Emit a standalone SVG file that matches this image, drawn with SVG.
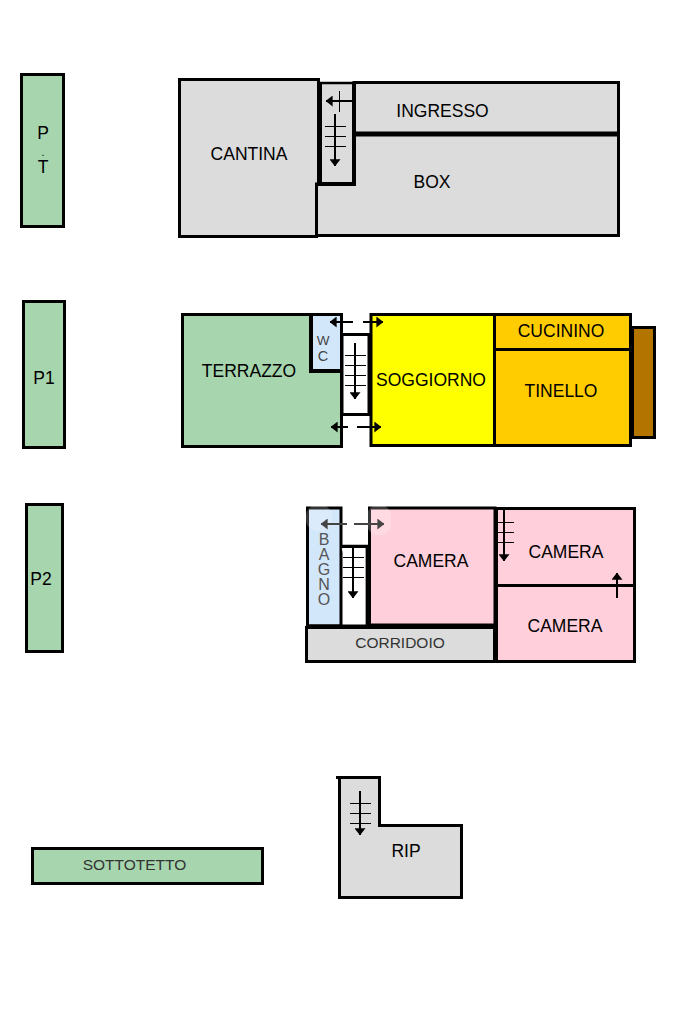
<svg xmlns="http://www.w3.org/2000/svg" width="682" height="1024" viewBox="0 0 682 1024">
<defs>
<marker id="ah" viewBox="0 0 10 10" refX="9.500" refY="5" markerWidth="7" markerHeight="11" markerUnits="userSpaceOnUse" orient="auto" preserveAspectRatio="none"><path d="M0 0L10 5L0 10z" fill="#000"/></marker>
<marker id="ahg" viewBox="0 0 10 10" refX="9.500" refY="5" markerWidth="7" markerHeight="11" markerUnits="userSpaceOnUse" orient="auto" preserveAspectRatio="none"><path d="M0 0L10 5L0 10z" fill="#444"/></marker>
</defs>
<style>
.r{stroke:#000;stroke-width:3;stroke-linejoin:miter}
.g{fill:#dcdcdc}.v{fill:#a6d5ae}.p{fill:#ffd0dc}.o{fill:#ffcc00}.b{fill:#d3e7fb}
text{font-family:"Liberation Sans",Arial,sans-serif;font-size:17.500px;fill:#000;text-anchor:middle}
.l{font-size:15.500px;fill:#333}
.a{fill:none;stroke:#000;stroke-width:2;marker-end:url(#ah)}
.ag{fill:none;stroke:#444;stroke-width:2;marker-end:url(#ahg)}
.t{fill:none;stroke:#000;stroke-width:1}
</style>
<rect width="682" height="1024" fill="#fff"/>
<g id="pt"><rect class="r v" x="21.500" y="74.500" width="42" height="152"/><text x="43" y="139">P</text><text x="43" y="173">T</text><text x="43" y="156" style="font-size:11px">.</text></g>
<g id="p1"><rect class="r v" x="23.500" y="301.500" width="41" height="146"/><text x="44" y="384">P1</text></g>
<g id="p2"><rect class="r v" x="26.500" y="504.500" width="36" height="147"/><text x="41" y="585">P2</text></g>
<g id="sottotetto"><rect class="r v" x="32.500" y="848.500" width="230" height="35"/><text class="l" x="134.500" y="870">SOTTOTETTO</text></g>

<g id="box"><path class="r g" d="M316.500 184.500H354.500V134H618.500V235.500H316.500z"/><text x="432" y="188">BOX</text></g>
<g id="ingresso"><rect class="r g" x="354" y="82.500" width="264.500" height="51"/><rect x="354" y="131.500" width="266" height="5"/><text x="442.500" y="117">INGRESSO</text></g>
<g id="scala-pt"><rect x="320" y="82" width="35" height="103" class="g"/><path d="M320 83H354" stroke="#000" stroke-width="2.500" fill="none"/><path d="M320 184H354V82M320 82V186" fill="none" stroke="#000" stroke-width="4"/></g>
<g id="cantina"><path class="r g" d="M179.500 79.500H318.500V184H316.500V236.500H179.500z"/><text x="249" y="160">CANTINA</text></g>

<g id="terrazzo"><rect class="r v" x="182.500" y="314.500" width="159" height="132"/><text x="249" y="377">TERRAZZO</text></g>
<g id="wc"><rect class="b" x="311" y="316" width="29" height="54"/><path d="M311 314V371H341" fill="none" stroke="#000" stroke-width="4"/><text class="l" x="323" y="344.500" style="font-size:13.500px;fill:#444">W</text><text class="l" x="323" y="361" style="font-size:14.500px;fill:#444">C</text></g>
<g id="soggiorno"><rect class="r" fill="#ffff00" x="371" y="314.500" width="123.500" height="131"/><text x="431" y="386">SOGGIORNO</text></g>
<g id="scala-p1"><rect x="342" y="334.500" width="27" height="80" fill="#fff" stroke="#000" stroke-width="3"/></g>
<g id="cucinino"><rect class="r o" x="494.500" y="314.500" width="136" height="35"/><text x="561" y="337">CUCININO</text></g>
<g id="tinello"><rect class="r o" x="494.500" y="349.500" width="136" height="96"/><text x="561" y="397">TINELLO</text></g>
<g id="balcone"><rect class="r" fill="#b37400" x="632.500" y="327.500" width="22" height="110"/></g>

<g id="bagno"><path class="b" d="M307.500 508H341V626H307.500z" stroke="#000" stroke-width="3"/><text class="l" x="324" y="545" style="font-size:16px;fill:#555">B</text><text class="l" x="324" y="560" style="font-size:16px;fill:#555">A</text><text class="l" x="324" y="575" style="font-size:16px;fill:#555">G</text><text class="l" x="324" y="590" style="font-size:16px;fill:#555">N</text><text class="l" x="324" y="605" style="font-size:16px;fill:#555">O</text></g>
<g id="camera1"><rect class="p" x="369.500" y="508" width="125.500" height="117" stroke="#000" stroke-width="3"/><text x="431" y="567">CAMERA</text></g>
<g id="scala-p2"><path d="M341 546.500H367V625" fill="#fff" stroke="#000" stroke-width="3.500"/><rect x="343" y="548" width="22.500" height="77" fill="#fff"/></g>
<g id="corridoio"><rect class="r g" x="306.500" y="627.500" width="188" height="34"/><rect x="306" y="624.500" width="190" height="4"/><text class="l" x="400" y="648">CORRIDOIO</text></g>
<g id="camera2"><rect class="r p" x="496.500" y="508.500" width="138" height="77"/><rect x="494.500" y="507" width="3.500" height="156"/><text x="566" y="558">CAMERA</text></g>
<g id="camera3"><rect class="r p" x="496.500" y="585.500" width="138" height="76"/><rect x="494.500" y="585" width="3.500" height="78"/><text x="565" y="632">CAMERA</text></g>

<g id="rip"><path class="r g" d="M336 777.500H379.500V825.500H461.500V897.500H339.500V777.500"/><text x="406" y="857">RIP</text></g>

<g id="velature"><rect x="306" y="505" width="26" height="26" rx="11" fill="#fff" opacity=".2"/><rect x="367" y="505" width="24" height="30" rx="11" fill="#fff" opacity=".22"/></g>

<g id="connettori">
<path class="a" d="M352 101H326"/><path class="t" d="M339.500 91V112"/>
<path class="a" d="M335 114V166"/><path class="t" d="M325 126.500H346M325 136.500H346M325 146.500H346"/>

<path class="a" d="M353 322H330"/><path class="a" d="M363 322H383"/>
<path class="a" d="M355 343V399"/><path class="t" d="M345 355.500H366M345 365.500H366M345 375.500H366M345 385.500H366"/>
<path class="a" d="M348 427H331"/><path class="a" d="M357 427H381"/>

<path class="ag" d="M347 524H321"/><path class="ag" d="M354 524H384"/>
<path class="a" d="M353 548V598"/><path class="t" d="M343 557.500H364M343 567.500H364M343 577.500H364"/>
<path class="a" d="M504 510V561"/><path class="t" d="M498 522.500H514M498 532.500H514M498 542.500H514"/>
<path class="a" d="M617 598V573"/>
<path class="a" d="M360 791V835"/><path class="t" d="M350 803.500H371M350 813.500H371M350 823.500H371"/>
</g>
</svg>
